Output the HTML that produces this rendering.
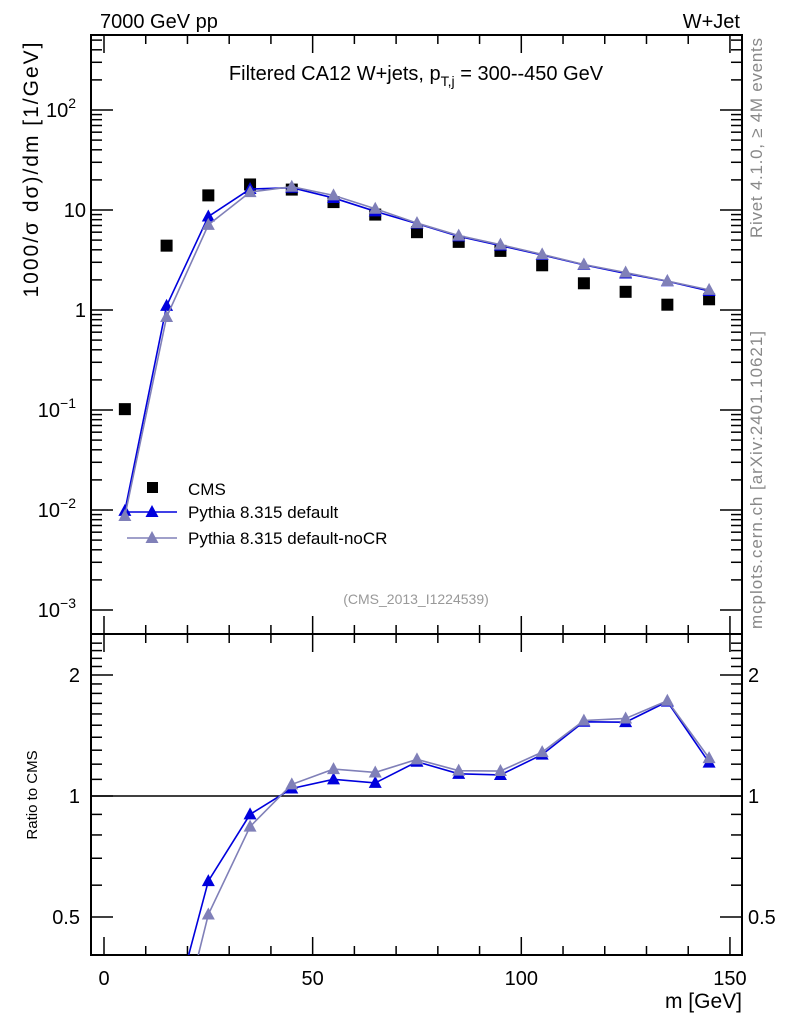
<!DOCTYPE html>
<html><head><meta charset="utf-8"><style>
html,body{margin:0;padding:0;background:#fff;overflow:hidden;width:786px;height:1024px}
svg{display:block;font-family:"Liberation Sans",sans-serif}
</style></head><body>
<svg id="c" width="786" height="1024" viewBox="0 0 786 1024" xmlns="http://www.w3.org/2000/svg">
<text x="100" y="28" font-size="20">7000 GeV pp</text>
<text x="740" y="28" font-size="20" text-anchor="end">W+Jet</text>
<text x="416" y="80" font-size="20" text-anchor="middle">Filtered CA12 W+jets, p<tspan font-size="14" dy="6">T,j</tspan><tspan dy="-6"> = 300--450 GeV</tspan></text>
<text transform="translate(38,170) rotate(-90)" font-size="21" text-anchor="middle" textLength="255">1000/σ  dσ)/dm [1/GeV]</text>
<text transform="translate(37,795) rotate(-90)" font-size="15" text-anchor="middle">Ratio to CMS</text>
<text x="742" y="1008" font-size="21" text-anchor="end">m [GeV]</text>
<text transform="translate(762,138) rotate(-90)" font-size="17" fill="#888" text-anchor="middle" textLength="200">Rivet 4.1.0, ≥ 4M events</text>
<text transform="translate(762,480) rotate(-90)" font-size="17" fill="#888" text-anchor="middle" textLength="298">mcplots.cern.ch [arXiv:2401.10621]</text>
<text x="416" y="604" font-size="14" fill="#999" text-anchor="middle">(CMS_2013_I1224539)</text>
<g id="g"></g>
</svg>
<script>
const mBins = [5,15,25,35,45,55,65,75,85,95,105,115,125,135,145];
const cmsVals = [0.102,4.4,14,18,16,12,9,6,4.8,3.9,2.8,1.85,1.52,1.13,1.28];
const pyDefault = [0.0098,1.1,8.6,16.2,16.7,13.2,9.7,7.3,5.45,4.4,3.55,2.83,2.32,1.94,1.55];
const pyNoCR = [0.0087,0.85,7.1,15.1,17.1,14.0,10.3,7.4,5.55,4.5,3.6,2.85,2.37,1.95,1.59];
const xTicks = [0,50,100,150];
const ratioTicks = [0.5,1,2];

const NS="http://www.w3.org/2000/svg";
const g=document.getElementById('g');
const L=91,R=742,T=35,M=634,B=955;
const X=v=>104+v*4.173;
const Y=v=>310-100*Math.log10(v);
const RY=v=>796-121*Math.log2(v);
function el(t,a,p){const e=document.createElementNS(NS,t);for(const k in a)e.setAttribute(k,a[k]);(p||g).appendChild(e);return e;}
function txt(x,y,s,a,p){const e=el('text',Object.assign({x:x,y:y,'font-size':20},a),p);e.textContent=s;return e;}

let f=el('rect',{x:L,y:T,width:R-L,height:M-T,fill:'none',stroke:'#000','stroke-width':2});


f=el('rect',{x:L,y:M,width:R-L,height:B-M,fill:'none',stroke:'#000','stroke-width':2});



for(let v=0;v<=150;v+=10){
  const maj=v%50===0, len=maj?18:9;
  for(const [y0,d] of [[M,-1],[T,1],[B,-1],[M,1]]){
    el('line',{x1:X(v),x2:X(v),y1:y0,y2:y0+d*len,stroke:'#000','stroke-width':1.5});
  }
}
xTicks.forEach(v=>{const t=txt(X(v),985,String(v),{'text-anchor':'middle'});

});

for(let e=-3;e<=2;e++){
  for(let k=1;k<10;k++){
    const v=k*Math.pow(10,e), y=Y(v);
    if(y<T||y>M)continue;
    const len=k===1?22:11;
    el('line',{x1:L,x2:L+len,y1:y,y2:y,stroke:'#000','stroke-width':1.5});
    el('line',{x1:R,x2:R-len,y1:y,y2:y,stroke:'#000','stroke-width':1.5});
  }
}
const yl=[[100,'10','2'],[10,'10',''],[1,'1',''],[0.1,'10','−1'],[0.01,'10','−2'],[0.001,'10','−3']];
yl.forEach(([v,b,s])=>{
  const t=el('text',{x:s?76:86,y:Y(v)+7,'font-size':20,'text-anchor':'end'});
  t.textContent=b;
  if(s){const ts=el('tspan',{dy:-9,'font-size':14},t);ts.textContent=s;}
  
  
});

for(let v=0.4;v<=2.5;v+=0.1){
  const y=RY(v); if(y<M||y>B)continue;
  const r=Math.round(v*10);
  const len=(r===5||r===10||r===20)?22:11;
  el('line',{x1:L,x2:L+len,y1:y,y2:y,stroke:'#000','stroke-width':1.5});
  el('line',{x1:R,x2:R-len,y1:y,y2:y,stroke:'#000','stroke-width':1.5});
}
ratioTicks.forEach(v=>{
  let t=txt(80,RY(v)+7,String(v),{'text-anchor':'end'});
  
  
  t=txt(748,RY(v)+7,String(v),{});
  
  
});
let ln=el('line',{x1:L,x2:R,y1:RY(1),y2:RY(1),stroke:'#000','stroke-width':1.5});



const defs=el('defs',{});
const cp=el('clipPath',{id:'rc'},defs);
el('rect',{x:L,y:M,width:R-L,height:B-M},cp);
const cm=el('clipPath',{id:'mc'},defs);
el('rect',{x:L,y:T,width:R-L,height:M-T},cm);

function tri(x,y,c,p){return el('polygon',{points:`${x},${y-7} ${x-6.5},${y+5} ${x+6.5},${y+5}`,fill:c},p);}

function series(vals,color,name,w){
  const gm=el('g',{'clip-path':'url(#mc)'});
  
  
  el('polyline',{points:mBins.map((m,i)=>X(m)+','+Y(vals[i])).join(' '),fill:'none',stroke:color,'stroke-width':w},gm);
  mBins.forEach((m,i)=>{const t=tri(X(m),Y(vals[i]),color,gm);
    
    });
  const gr=el('g',{'clip-path':'url(#rc)'});
  
  
  const rv=vals.map((v,i)=>v/cmsVals[i]);
  el('polyline',{points:mBins.map((m,i)=>X(m)+','+RY(rv[i])).join(' '),fill:'none',stroke:color,'stroke-width':w},gr);
  mBins.forEach((m,i)=>{const t=tri(X(m),RY(rv[i]),color,gr);
    
    });
}
mBins.forEach((m,i)=>{const r=el('rect',{x:X(m)-6,y:Y(cmsVals[i])-6,width:12,height:12,fill:'#000'});
  
  });
series(pyDefault,'#0000dd','pythia-default',1.6);
series(pyNoCR,'#8080b8','pythia-nocr',1.6);

const lg=el('g',{});


el('rect',{x:147,y:482,width:11,height:11,fill:'#000'},lg);
txt(188,495,'CMS',{'font-size':17},lg);
el('line',{x1:127,x2:177,y1:512,y2:512,stroke:'#0000dd','stroke-width':1.6},lg);
tri(152,512,'#0000dd',lg);
txt(188,518,'Pythia 8.315 default',{'font-size':17},lg);
el('line',{x1:127,x2:177,y1:538,y2:538,stroke:'#8080b8','stroke-width':1.6},lg);
tri(152,538,'#8080b8',lg);
txt(188,544,'Pythia 8.315 default-noCR',{'font-size':17},lg);
</script>
</body></html>
